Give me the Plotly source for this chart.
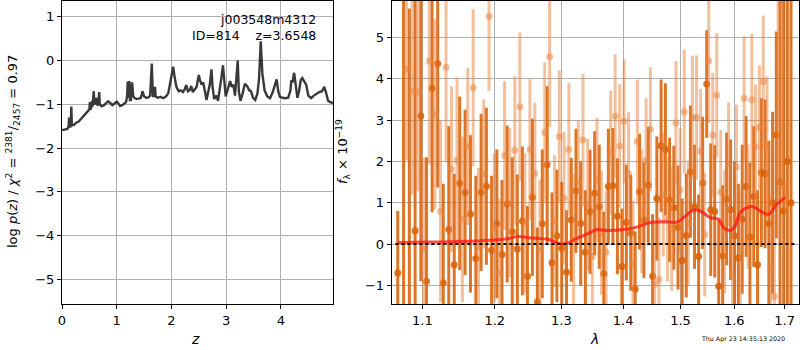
import plotly.graph_objects as go

# ---------------- left panel: log p(z) ----------------
z_grid = [0.00, 0.05, 0.10, 0.12, 0.13, 0.14, 0.16, 0.17, 0.18, 0.22, 0.26, 0.30, 0.35, 0.40, 0.45, 0.48,
          0.50, 0.51, 0.52, 0.54, 0.55, 0.56, 0.58, 0.59, 0.61, 0.63, 0.64, 0.66, 0.68, 0.69, 0.72, 0.76,
          0.80, 0.84, 0.88, 0.92, 0.96, 1.00, 1.03, 1.06, 1.10, 1.14, 1.17, 1.19, 1.20, 1.21, 1.23, 1.24,
          1.26, 1.28, 1.30, 1.32, 1.36, 1.40, 1.44, 1.47, 1.50, 1.54, 1.58, 1.61, 1.63, 1.64, 1.65, 1.66,
          1.68, 1.70, 1.71, 1.75, 1.80, 1.85, 1.90, 1.94, 1.97, 2.00, 2.03, 2.06, 2.09, 2.13, 2.17, 2.21,
          2.24, 2.27, 2.30, 2.34, 2.36, 2.39, 2.43, 2.46, 2.48, 2.50, 2.52, 2.55, 2.58, 2.61, 2.64, 2.67,
          2.70, 2.73, 2.75, 2.78, 2.82, 2.85, 2.88, 2.91, 2.94, 2.96, 2.99, 3.03, 3.07, 3.10, 3.13, 3.16,
          3.19, 3.21, 3.23, 3.26, 3.30, 3.34, 3.38, 3.42, 3.45, 3.49, 3.53, 3.57, 3.60, 3.63, 3.66, 3.70,
          3.75, 3.80, 3.85, 3.89, 3.92, 3.95, 3.98, 4.03, 4.08, 4.13, 4.17, 4.19, 4.21, 4.24, 4.27, 4.30,
          4.33, 4.36, 4.39, 4.42, 4.46, 4.50, 4.55, 4.60, 4.65, 4.70, 4.75, 4.79, 4.82, 4.86, 4.90, 4.95]
logp = [-1.59, -1.58, -1.56, -1.50, -1.30, -1.50, -1.52, -1.05, -1.48, -1.47, -1.42, -1.40, -1.33, -1.27, -1.20, -1.17,
        -1.12, -0.95, -1.12, -1.05, -0.92, -1.05, -0.70, -1.00, -0.95, -0.85, -1.00, -1.02, -0.72, -1.00, -1.04, -1.03,
        -0.98, -0.93, -0.97, -1.02, -0.98, -0.94, -0.98, -1.04, -1.02, -0.97, -0.95, -0.80, -0.48, -0.85, -0.47, -0.90,
        -0.90, -0.50, -0.80, -0.85, -0.88, -0.87, -0.85, -0.70, -0.82, -0.85, -0.84, -0.80, -0.40, -0.07, -0.45, -0.83,
        -0.78, -0.60, -0.82, -0.85, -0.83, -0.86, -0.82, -0.75, -0.55, -0.35, -0.14, -0.40, -0.60, -0.70, -0.68, -0.72,
        -0.66, -0.56, -0.70, -0.66, -0.58, -0.72, -0.65, -0.60, -0.45, -0.33, -0.45, -0.55, -0.50, -0.75, -0.90, -0.72,
        -0.55, -0.20, -0.60, -0.88, -0.80, -0.92, -0.70, -0.40, -0.11, -0.50, -0.82, -0.65, -0.47, -0.60, -0.55, -0.80,
        -0.40, 0.00, -0.70, -0.92, -0.75, -0.53, -0.58, -0.68, -0.70, -0.85, -0.90, -0.75, -0.40, 0.44, -0.30, -0.68,
        -0.82, -0.86, -0.72, -0.55, -0.43, -0.70, -0.83, -0.85, -0.86, -0.85, -0.70, -0.45, -0.50, -0.28, -0.60, -0.85,
        -0.70, -0.45, -0.40, -0.48, -0.55, -0.80, -0.86, -0.80, -0.75, -0.72, -0.70, -0.60, -0.72, -0.92, -0.95, -0.97]

# ---------------- right panel: spectrum ----------------
lam_a = [1.0680, 1.0755, 1.0830, 1.0905, 1.0980, 1.1055, 1.1130, 1.1205, 1.1280, 1.1355, 1.1430, 1.1505,
         1.1580, 1.1655, 1.1730, 1.1805, 1.1880, 1.1955, 1.2030, 1.2105, 1.2180, 1.2255, 1.2330, 1.2405,
         1.2480, 1.2555, 1.2630, 1.2705, 1.2780, 1.2855, 1.2930, 1.3005, 1.3080, 1.3155, 1.3230, 1.3305,
         1.3380, 1.3455, 1.3530, 1.3605, 1.3680, 1.3755, 1.3830, 1.3905, 1.3980, 1.4055, 1.4130, 1.4205,
         1.4280, 1.4355, 1.4430, 1.4505, 1.4580, 1.4655, 1.4730, 1.4805, 1.4880, 1.4955, 1.5030, 1.5105,
         1.5180, 1.5255, 1.5330, 1.5405, 1.5480, 1.5555, 1.5630, 1.5705, 1.5780, 1.5855, 1.5930, 1.6005,
         1.6080, 1.6155, 1.6230, 1.6305, 1.6380, 1.6455, 1.6530, 1.6605, 1.6680, 1.6755, 1.6830, 1.6905,
         1.6980, 1.7055, 1.7130]
flux_a = [-0.70, 6.20, -1.80, 0.32, 3.10, -0.90, 3.77, 4.37, -0.94, 0.35, -0.50, 1.47,
          1.25, 0.73, -0.35, 1.25, 1.40, -0.15, 0.49, -0.25, 0.97, 0.30, -0.12, 0.56,
          -0.78, 1.13, -1.40, 0.49, 1.92, -0.45, 0.20, -0.10, -0.68, 0.59, 1.29, 0.50,
          -0.20, 0.78, 1.23, 0.90, -0.72, 1.39, 1.41, 0.67, -0.54, 0.52, 0.27, -1.09,
          1.27, 0.58, 1.43, -0.78, 1.10, 2.38, 2.29, 1.07, 0.88, 0.40, -0.40, 0.21,
          1.75, 0.90, -0.30, 1.48, 3.87, 0.83, 0.79, -1.02, -0.28, 1.09, 0.83, 0.20,
          -0.34, 0.60, 1.39, 0.17, 1.15, -0.50, 1.73, 1.70, 0.50, 1.00, 2.64, 1.50,
          0.80, 2.00, 1.00]
err_a = [1.5, 8.0, 7.5, 6.0, 4.0, 3.0, 3.0, 3.0, 2.4, 2.5, 2.2, 2.1,
         2.0, 1.9, 2.0, 1.9, 1.9, 1.8, 1.8, 1.8, 1.9, 1.8, 1.8, 1.8,
         1.7, 1.9, 1.8, 1.8, 1.9, 1.7, 1.6, 1.6, 1.5, 1.5, 1.5, 1.5,
         1.5, 1.5, 1.5, 1.5, 1.5, 1.4, 1.4, 1.4, 1.4, 1.4, 1.4, 1.4,
         1.4, 1.4, 1.4, 1.5, 1.5, 1.6, 1.6, 1.5, 1.5, 1.5, 1.5, 1.5,
         1.6, 1.5, 1.5, 1.6, 1.3, 1.6, 1.6, 1.6, 1.7, 1.6, 1.7, 1.8,
         1.8, 1.8, 1.7, 1.8, 1.7, 1.8, 1.8, 1.8, 2.0, 2.2, 2.5, 5.0,
         6.0, 7.0, 8.0]

lam_b = [1.07925, 1.08675, 1.09425, 1.10175, 1.10925, 1.11675, 1.12425, 1.13175, 1.13925, 1.14675,
         1.15425, 1.16175, 1.16925, 1.17675, 1.18425, 1.19175, 1.19925, 1.20675, 1.21425, 1.22175,
         1.22925, 1.23675, 1.24425, 1.25175, 1.25925, 1.26675, 1.27425, 1.28175, 1.28925, 1.29675,
         1.30425, 1.31175, 1.31925, 1.32675, 1.33425, 1.34175, 1.34925, 1.35675, 1.36425, 1.37175,
         1.37925, 1.38675, 1.39425, 1.40175, 1.40925, 1.41675, 1.42425, 1.43175, 1.43925, 1.44675,
         1.45425, 1.46175, 1.46925, 1.47675, 1.48425, 1.49175, 1.49925, 1.50675, 1.51425, 1.52175,
         1.52925, 1.53675, 1.54425, 1.55175, 1.55925, 1.56675, 1.57425, 1.58175, 1.58925, 1.59675,
         1.60425, 1.61175, 1.61925, 1.62675, 1.63425, 1.64175, 1.64925, 1.65675, 1.66425, 1.67175,
         1.67925, 1.68675, 1.69425, 1.70175]
flux_b = [4.23, 3.70, 3.68, -0.12, 4.43, 3.14, 0.79, 4.28, 1.81, 2.03,
          0.60, 2.36, 3.78, -0.06, 1.70, 5.51, 0.39, -0.70, 2.14, 1.00,
          2.27, 3.32, 0.50, 2.29, 1.71, -0.15, 2.70, 4.53, 0.55, 2.60,
          1.11, 2.29, 0.10, 1.51, 2.52, 0.95, -0.30, 1.55, 0.27, -0.20,
          2.21, 3.09, 2.37, 2.97, 1.70, -0.45, 2.48, 0.80, 2.03, 2.78,
          -0.98, -0.86, 1.20, 0.60, 0.37, 2.93, 1.30, 3.20, 0.50, 3.06,
          3.06, 2.25, 0.23, 4.43, 2.64, 3.60, 1.26, 0.30, 1.93, -0.80,
          1.87, -0.18, 3.53, 0.90, 3.49, 2.36, 2.82, 3.93, 2.36, -0.60,
          -1.27, 3.56, 4.83, 1.13]
err_b = [2.2, 2.5, 2.4, 2.2, 2.5, 2.3, 2.2, 2.3, 2.0, 2.0,
         2.0, 1.9, 1.9, 1.9, 1.8, 1.8, 1.8, 1.8, 1.8, 1.8,
         1.8, 1.8, 1.7, 1.7, 1.7, 1.7, 1.7, 1.7, 1.6, 1.6,
         1.6, 1.6, 1.6, 1.5, 1.6, 1.6, 1.5, 1.5, 1.5, 1.5,
         1.5, 1.5, 1.5, 1.5, 1.5, 1.5, 1.5, 1.5, 1.5, 1.5,
         1.5, 1.5, 1.5, 1.5, 1.5, 1.5, 1.5, 1.5, 1.5, 1.5,
         1.5, 1.5, 1.5, 1.5, 1.5, 1.5, 1.5, 1.5, 1.5, 1.5,
         1.5, 1.5, 1.5, 1.5, 1.6, 1.5, 1.5, 1.6, 1.7, 1.8,
         2.0, 2.5, 3.5, 0.4]

lam_model = [1.068, 1.110, 1.151, 1.193, 1.2175, 1.2346, 1.2521, 1.2775, 1.3033, 1.3244, 1.3404,
             1.3567, 1.3730, 1.4007, 1.4235, 1.4464, 1.4697, 1.4936, 1.5055, 1.5237, 1.5360,
             1.5546, 1.5702, 1.5797, 1.5925, 1.6021, 1.6118, 1.6346, 1.6510, 1.6676, 1.6845, 1.7013]
flux_model = [0.04, 0.05, 0.06, 0.09, 0.13, 0.18, 0.15, 0.12, 0.00, 0.14, 0.24,
              0.35, 0.33, 0.35, 0.41, 0.52, 0.54, 0.53, 0.64, 0.82, 0.80,
              0.64, 0.60, 0.40, 0.33, 0.44, 0.77, 0.91, 0.80, 0.72, 0.97, 1.13]
lam_zero = [1.065, 1.726]
flux_zero = [0.0, 0.0]

left_xticks = [0, 1, 2, 3, 4]
left_yticks = [-5, -4, -3, -2, -1, 0, 1]
right_xticks = [1.1, 1.2, 1.3, 1.4, 1.5, 1.6, 1.7]
right_yticks = [-1, 0, 1, 2, 3, 4, 5]

DARK = "rgba(217,98,8,0.88)"
LIGHT = "rgba(232,130,60,0.5)"
FONT = "DejaVu Sans"

W, H, MB, MT = 800, 350, 46, 1
PH = H - MB - MT

fig = go.Figure()

fig.add_trace(go.Scatter(x=z_grid, y=logp, mode="lines", xaxis="x", yaxis="y",
                         line=dict(color="rgba(40,40,40,0.92)", width=2.4), showlegend=False))

fig.add_trace(go.Scatter(x=lam_a, y=flux_a, mode="markers", xaxis="x2", yaxis="y2",
                         marker=dict(color=DARK, size=7),
                         error_y=dict(type="data", array=err_a, color=DARK, thickness=3, width=0),
                         showlegend=False))
fig.add_trace(go.Scatter(x=lam_b, y=flux_b, mode="markers", xaxis="x2", yaxis="y2",
                         marker=dict(color=LIGHT, size=7),
                         error_y=dict(type="data", array=err_b, color=LIGHT, thickness=3, width=0),
                         showlegend=False))
fig.add_trace(go.Scatter(x=lam_model, y=flux_model, mode="lines", xaxis="x2", yaxis="y2",
                         line=dict(color="rgba(255,20,20,0.75)", width=3, shape="spline"),
                         showlegend=False))
fig.add_trace(go.Scatter(x=lam_zero, y=flux_zero, mode="lines", xaxis="x2", yaxis="y2",
                         line=dict(color="black", width=2, dash="dot"), showlegend=False))

axis_common = dict(showline=True, linecolor="black", linewidth=1, mirror=True,
                   ticks="outside", ticklen=4, tickcolor="black", automargin=False,
                   showgrid=True, gridcolor="#b0b0b0", gridwidth=1, zeroline=False,
                   tickfont=dict(family=FONT, size=13, color="black"))

def minus(vals):
    return [str(v).replace("-", "\u2212") for v in vals]

fig.update_layout(
    width=W, height=H,
    margin=dict(l=0, r=0, t=MT, b=MB, autoexpand=False),
    paper_bgcolor="white", plot_bgcolor="white",
    font=dict(family=FONT, size=13, color="black"),
    xaxis=dict(domain=[62 / W, 333 / W], range=[0, 4.95], tickvals=left_xticks,
               anchor="y", **axis_common),
    yaxis=dict(domain=[0, 1], range=[-5.56, 1.36], tickvals=left_yticks,
               ticktext=minus(left_yticks), anchor="x", **axis_common),
    xaxis2=dict(domain=[391.7 / W, 799 / W], type="log", range=[0.02541, 0.23792],
                tickvals=right_xticks, ticktext=[f"{v:.1f}" for v in right_xticks],
                anchor="y2", **axis_common),
    yaxis2=dict(domain=[0, 1], range=[-1.45, 5.88], tickvals=right_yticks,
                ticktext=minus(right_yticks), anchor="x2", **axis_common),
)

# (pixel x, pixel y from top, text, size, angle, xanchor)
labels = [
    (318, 20, "j003548m4312", 12.5, 0, "right"),
    (318, 35, "ID=814\u00a0\u00a0\u00a0\u00a0z=3.6548", 12.5, 0, "right"),
    (195, 339, "<i>z</i>", 14, 0, "center"),
    (594, 339, "<i>λ</i>", 14, 0, "center"),
    (743, 339, "Thu Apr 23 14:35:13 2020", 6.3, 0, "center"),
    (13, 152, "log <i>p</i>(<i>z</i>) / <i>χ</i><sup>2</sup> = <sup>2381</sup>/<sub>2457</sub> = 0.97", 13, -90, "center"),
    (343, 152, "<i>f</i><sub>λ</sub> × 10<sup>−19</sup>", 13, -90, "center"),
]
ann = []
for px, py, txt, sz, ang, xa in labels:
    ann.append(dict(x=px / W, y=(H - py - MB) / PH, xref="paper", yref="paper", text=txt,
                    showarrow=False, textangle=ang, xanchor=xa, yanchor="middle",
                    font=dict(size=sz, family=FONT, color="black")))
fig.update_layout(annotations=ann)

fig.write_html("out.html", config={"displayModeBar": False},
               post_script="document.body.style.margin='0';document.body.style.overflow='hidden';")
